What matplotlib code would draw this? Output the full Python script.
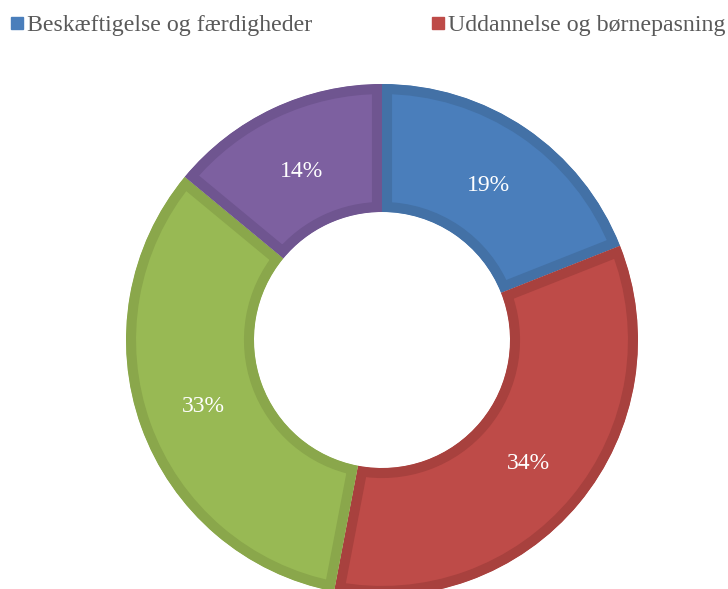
import matplotlib.pyplot as plt
from matplotlib.patches import Rectangle

# data
categories = ["Beskæftigelse og færdigheder", "Uddannelse og børnepasning", "Kategori 3", "Kategori 4"]
shares = [19, 34, 33, 14]
fill_colors = ["#4A7EBB", "#BE4B48", "#98B954", "#7D60A0"]
edge_colors = ["#4371A6", "#A8413E", "#8AA74B", "#6F5590"]
legend_shown = categories[:2]  # only two entries are visible in the reference

W, H = 728, 589
fig = plt.figure(figsize=(W / 100, H / 100), dpi=100)

# ring centre and radius in pixels
cx, cy, R = 382, 340, 256
ax = fig.add_axes([(cx - R) / W, (H - cy - R) / H, 2 * R / W, 2 * R / H])
ax.set_aspect("equal")
ax.axis("off")

wedges, texts, autotexts = ax.pie(
    shares,
    colors=fill_colors,
    startangle=90,
    counterclock=False,
    radius=1,
    pctdistance=0.74,
    autopct="%d%%",
    wedgeprops=dict(width=0.5, linewidth=14.5, joinstyle="miter"),
    textprops=dict(color="white", fontsize=17, family="Liberation Serif"),
    frame=False,
)
ax.set_xlim(-1, 1)
ax.set_ylim(-1, 1)

# inner border: thick edge clipped to the wedge's own outline
# (pie turns clipping off, so switch it back on)
for w, ec in zip(wedges, edge_colors):
    w.set_edgecolor(ec)
    w.set_clip_on(True)
    w.set_clip_path(w)

for t in autotexts:
    t.set_va("center_baseline")

# legend drawn by hand (entries sit far apart in the reference)
legend_x = [11, 432]
for x, lab, col in zip(legend_x, legend_shown, fill_colors):
    fig.patches.append(Rectangle((x / W, 1 - 29 / H), 12 / W, 12 / H,
                                 transform=fig.transFigure, color=col))
    fig.text((x + 16) / W, 1 - 31 / H, lab, fontsize=17.2, family="Liberation Serif",
             color="#595959", va="baseline", ha="left")

fig.savefig("out.png", dpi=100)
